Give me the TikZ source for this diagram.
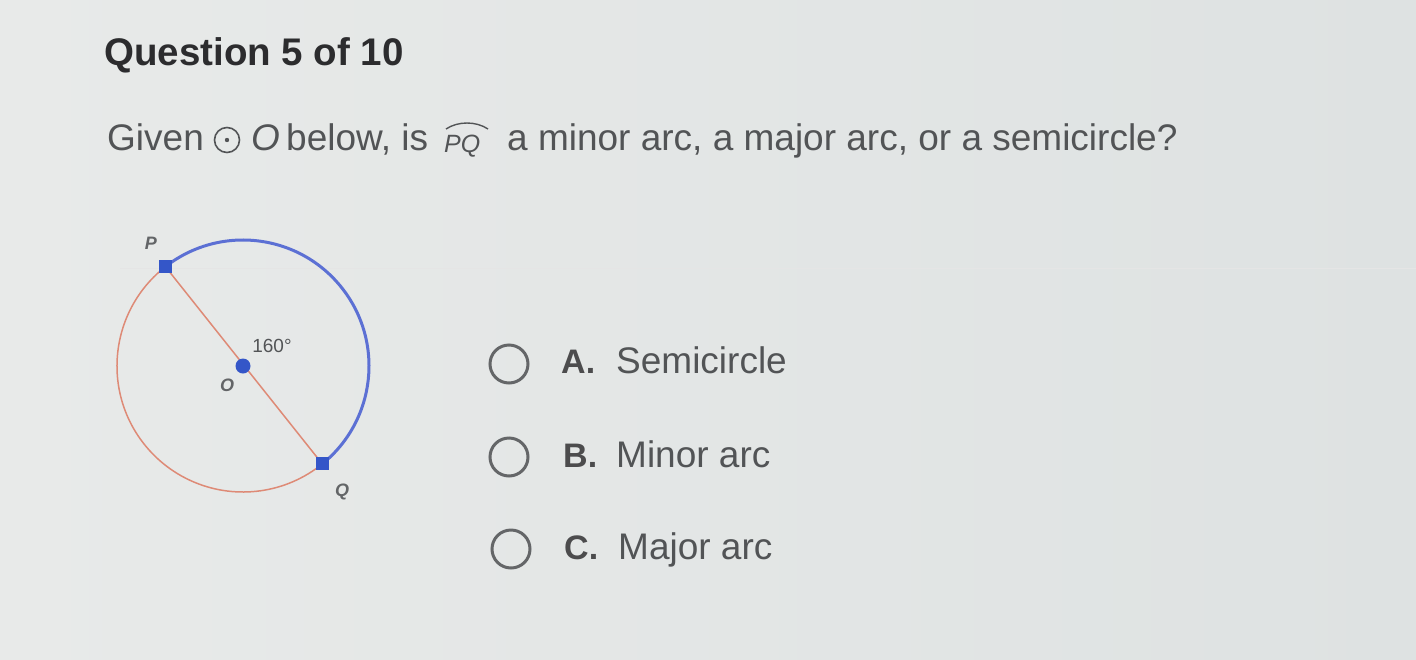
\documentclass[tikz,border=0pt]{standalone}
\usepackage{fontspec}
\setmainfont{Liberation Sans}
\usetikzlibrary{calc}
\definecolor{bgA}{RGB}{232,234,233}
\definecolor{bgB}{RGB}{222,226,226}
\definecolor{titlec}{RGB}{44,44,46}
\definecolor{textc}{RGB}{82,84,86}
\definecolor{arcblue}{RGB}{92,112,212}
\definecolor{arcred}{RGB}{222,138,118}
\definecolor{ptblue}{RGB}{52,86,200}
\definecolor{radioc}{RGB}{100,102,104}
\begin{document}
\begin{tikzpicture}[x=1pt,y=-1pt,
  qtext/.style={anchor=base west,inner sep=0pt,text=textc,font=\fontsize{37}{42}\selectfont},
  opt/.style={anchor=base west,inner sep=0pt,text=textc,font=\fontsize{37}{42}\selectfont},
  optletter/.style={anchor=base west,inner sep=0pt,text=titlec!85,font=\fontsize{34}{40}\selectfont\bfseries},
  radio/.style={draw=radioc,line width=3pt,circle,minimum size=38pt,inner sep=0pt},
  lbl/.style={inner sep=0pt,text=textc!90,font=\fontsize{18}{20}\selectfont\itshape\bfseries},
  sqpt/.style={fill=ptblue,minimum size=13pt,inner sep=0pt,rectangle},
  rdpt/.style={fill=ptblue,circle,minimum size=15pt,inner sep=0pt}]
\shade[left color=bgA,right color=bgB] (0,0) rectangle (1416,659);
\useasboundingbox (0,0) rectangle (1416,659);
\draw[white!80!gray,line width=1pt] (120,268) -- (1416,268);
% title
\node[anchor=base west,inner sep=0pt,text=titlec,font=\fontsize{38.5}{44}\selectfont\bfseries] (title) at (104,65) {Question 5 of 10};
% question line
\node[qtext] (given) at (107,150) {Given};
\node[draw=textc,line width=1.6pt,circle,minimum size=25pt,inner sep=0pt] (sym) at (227,140) {};
\fill[textc] (sym.center) circle (2.2pt);
\node[qtext,font=\fontsize{37}{42}\selectfont\itshape] (oname) at (251,150) {O};
\node[qtext] (below) at (286,150) {below, is};
\node[qtext,font=\fontsize{25}{30}\selectfont\itshape] (pq) at (444,152) {PQ};
\draw[textc,line width=1.4pt] (446,129) .. controls (458,121) and (476,121) .. (488,129);
\node[qtext] (rest) at (507,150) {a minor arc, a major arc, or a semicircle?};
% circle figure
\coordinate (O) at (243,366);
\coordinate (Pc) at ($(O)+(128:126pt)$);
\coordinate (Qc) at ($(O)+(-51:126pt)$);
\draw[arcred,line width=1.5pt] (Pc) arc[start angle=128,end angle=309,radius=126pt];
\draw[arcblue,line width=3pt] (Pc) arc[start angle=128,end angle=-51,radius=126pt];
\draw[arcred,line width=1.5pt] (Pc) -- (Qc);
\node[sqpt] (P) at (Pc) {};
\node[sqpt] (Q) at (Qc) {};
\node[rdpt] (Oc) at (O) {};
\node[lbl] (Pl) at (151,243) {P};
\node[lbl] (Ql) at (342,492) {Q};
\node[lbl] (Ol) at (227,385) {O};
\node[inner sep=0pt,text=textc,font=\fontsize{19}{20}\selectfont] (ang) at (272,346) {160°};
% options
\node[radio] (ra) at (509,364) {};
\node[radio] (rb) at (509,457) {};
\node[radio] (rc) at (511,549) {};
\node[optletter] (la) at (561,373) {A.};
\node[opt] (ta) at (616,373) {Semicircle};
\node[optletter] (lb) at (563,467) {B.};
\node[opt] (tb) at (616,467) {Minor arc};
\node[optletter] (lc) at (564,559) {C.};
\node[opt] (tc) at (618,559) {Major arc};
\end{tikzpicture}
\end{document}
